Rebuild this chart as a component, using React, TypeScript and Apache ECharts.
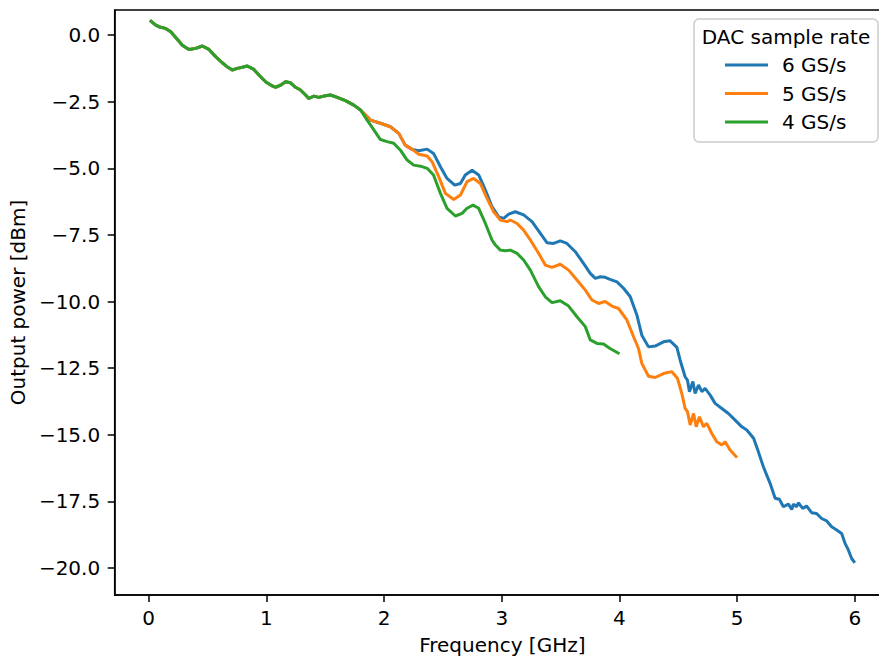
import React, { useEffect, useRef } from "react";
import * as echarts from "echarts";

// Frequency [GHz] / Output power [dBm] pairs
const commonPart: [number, number][] = [
  [0.011, 0.55], [0.06, 0.375], [0.1, 0.29], [0.144, 0.25], [0.187, 0.12], [0.23, -0.09],
  [0.286, -0.38], [0.342, -0.54], [0.4, -0.5], [0.456, -0.41], [0.512, -0.54], [0.569, -0.81],
  [0.625, -1.04], [0.673, -1.21], [0.71, -1.31], [0.753, -1.25], [0.795, -1.21], [0.838, -1.16],
  [0.894, -1.29], [0.936, -1.5], [0.993, -1.75], [1.05, -1.91], [1.078, -1.96], [1.12, -1.88],
  [1.163, -1.75], [1.205, -1.79], [1.248, -1.96], [1.29, -2.06], [1.333, -2.25], [1.36, -2.38],
  [1.403, -2.29], [1.446, -2.34], [1.488, -2.29], [1.545, -2.25], [1.602, -2.34], [1.672, -2.46],
  [1.743, -2.63], [1.8, -2.81],
];

const tail6: [number, number][] = [
  [1.856, -3.06], [1.885, -3.19], [1.969, -3.31], [2.054, -3.44], [2.125, -3.69], [2.18, -4.13],
  [2.238, -4.29], [2.295, -4.34], [2.366, -4.28], [2.42, -4.44], [2.479, -4.94], [2.535, -5.38],
  [2.6, -5.63], [2.649, -5.57], [2.69, -5.25], [2.748, -5.07], [2.804, -5.25], [2.861, -5.82],
  [2.917, -6.44], [2.974, -6.82], [3.016, -6.88], [3.059, -6.72], [3.115, -6.63], [3.186, -6.75],
  [3.257, -7.0], [3.328, -7.44], [3.384, -7.79], [3.44, -7.82], [3.497, -7.72], [3.554, -7.82],
  [3.625, -8.13], [3.695, -8.57], [3.752, -8.94], [3.795, -9.13], [3.837, -9.07], [3.879, -9.09],
  [3.92, -9.17], [3.979, -9.26], [4.035, -9.5], [4.092, -9.82], [4.148, -10.5], [4.19, -11.26],
  [4.247, -11.7], [4.304, -11.67], [4.374, -11.51], [4.43, -11.47], [4.488, -11.72], [4.516, -12.2],
  [4.558, -12.82], [4.578, -12.95], [4.595, -13.38], [4.624, -13.0], [4.643, -13.45], [4.672, -13.13],
  [4.7, -13.38], [4.728, -13.26], [4.771, -13.51], [4.813, -13.82], [4.87, -14.01], [4.926, -14.2],
  [4.983, -14.45], [5.04, -14.7], [5.082, -14.82], [5.14, -15.13], [5.18, -15.63], [5.223, -16.2],
  [5.28, -16.82], [5.323, -17.38], [5.36, -17.42], [5.393, -17.7], [5.436, -17.6], [5.464, -17.8],
  [5.478, -17.6], [5.506, -17.7], [5.52, -17.55], [5.557, -17.76], [5.59, -17.67], [5.633, -17.92],
  [5.675, -17.95], [5.718, -18.14], [5.761, -18.23], [5.803, -18.45], [5.846, -18.57], [5.888, -18.7],
  [5.917, -19.07], [5.945, -19.32], [5.973, -19.64], [6.0, -19.8],
];

const tail5: [number, number][] = [
  [1.856, -3.06], [1.885, -3.19], [1.969, -3.31], [2.054, -3.44], [2.125, -3.69], [2.18, -4.13],
  [2.238, -4.29], [2.295, -4.47], [2.366, -4.54], [2.408, -4.75], [2.465, -5.32], [2.521, -5.94],
  [2.592, -6.17], [2.649, -6.0], [2.705, -5.5], [2.762, -5.38], [2.818, -5.57], [2.875, -6.13],
  [2.931, -6.63], [2.988, -6.94], [3.045, -7.0], [3.073, -6.94], [3.13, -7.07], [3.186, -7.32],
  [3.243, -7.69], [3.313, -8.19], [3.37, -8.63], [3.427, -8.72], [3.497, -8.6], [3.568, -8.82],
  [3.639, -9.19], [3.71, -9.57], [3.766, -9.94], [3.823, -10.07], [3.879, -10.0], [3.936, -10.17],
  [3.992, -10.26], [4.063, -10.69], [4.12, -11.32], [4.162, -11.76], [4.19, -12.32], [4.247, -12.8],
  [4.304, -12.85], [4.374, -12.7], [4.445, -12.63], [4.493, -12.88], [4.53, -13.45], [4.558, -14.01],
  [4.578, -14.13], [4.601, -14.63], [4.63, -14.2], [4.652, -14.7], [4.68, -14.32], [4.714, -14.7],
  [4.742, -14.57], [4.785, -14.95], [4.827, -15.26], [4.87, -15.38], [4.898, -15.26], [4.94, -15.57],
  [4.983, -15.78], [5.0, -15.85],
];

const tail4: [number, number][] = [
  [1.856, -3.19], [1.913, -3.56], [1.969, -3.92], [2.026, -4.0], [2.082, -4.06], [2.139, -4.32],
  [2.196, -4.69], [2.252, -4.88], [2.31, -4.92], [2.366, -5.0], [2.42, -5.25], [2.479, -5.94],
  [2.535, -6.5], [2.606, -6.79], [2.663, -6.69], [2.705, -6.5], [2.756, -6.38], [2.804, -6.5],
  [2.861, -7.07], [2.917, -7.69], [2.946, -7.88], [2.988, -8.07], [3.03, -8.09], [3.073, -8.07],
  [3.13, -8.19], [3.186, -8.44], [3.243, -8.82], [3.313, -9.44], [3.37, -9.82], [3.427, -10.04],
  [3.497, -9.97], [3.568, -10.17], [3.639, -10.57], [3.71, -10.94], [3.752, -11.44], [3.809, -11.57],
  [3.865, -11.59], [3.92, -11.76], [4.0, -11.96],
];

const seriesNames = ["6 GS/s", "5 GS/s", "4 GS/s"];
const seriesColors = ["#1f77b4", "#ff7f0e", "#2ca02c"];
const xTicks = [0, 1, 2, 3, 4, 5, 6];
const yTicks = [-20, -17.5, -15, -12.5, -10, -7.5, -5, -2.5, 0];

const FONT = "DejaVu Sans";

export default function App() {
  const ref = useRef<HTMLDivElement>(null);
  useEffect(() => {
    if (!ref.current) return;
    const chart = echarts.init(ref.current, undefined, { renderer: "svg" });
    const tails = [tail6, tail5, tail4];
    const option = {
      animation: false,
      grid: {
        left: 114,
        top: 10,
        right: 0,
        bottom: 66,
        show: true,
        borderColor: "#000",
        borderWidth: 1.5,
        backgroundColor: "transparent",
      },
      xAxis: {
        type: "value",
        min: -0.289,
        max: 6.299,
        name: "Frequency [GHz]",
        nameLocation: "middle",
        nameGap: 40,
        nameTextStyle: { fontFamily: FONT, fontSize: 20, color: "#000" },
        splitLine: { show: false },
        axisLine: { show: true, onZero: false, lineStyle: { color: "#000", width: 1.5 } },
        axisTick: { show: true, length: 7, customValues: xTicks, lineStyle: { color: "#000", width: 1.5 } },
        axisLabel: {
          customValues: xTicks,
          fontFamily: FONT,
          fontSize: 20,
          color: "#000",
          margin: 13,
          formatter: (v: number) => String(v),
        },
      },
      yAxis: {
        type: "value",
        min: -21.01,
        max: 0.94,
        name: "Output power [dBm]",
        nameLocation: "middle",
        nameRotate: 90,
        nameGap: 84,
        nameTextStyle: { fontFamily: FONT, fontSize: 20, color: "#000" },
        splitLine: { show: false },
        axisLine: { show: true, onZero: false, lineStyle: { color: "#000", width: 1.5 } },
        axisTick: { show: true, length: 7, customValues: yTicks, lineStyle: { color: "#000", width: 1.5 } },
        axisLabel: {
          customValues: yTicks,
          fontFamily: FONT,
          fontSize: 20,
          color: "#000",
          margin: 14.5,
          formatter: (v: number) => (v < 0 ? "\u2212" : "") + Math.abs(v).toFixed(1),
        },
      },
      legend: {
        orient: "vertical",
        left: 725,
        top: 55,
        padding: 0,
        itemGap: 8.5,
        itemWidth: 43,
        itemHeight: 3,
        icon: "rect",
        data: seriesNames,
        textStyle: { fontFamily: FONT, fontSize: 20, color: "#000", lineHeight: 20, padding: [0, 0, 0, 9] },
        z: 6,
      },
      graphic: [
        {
          type: "rect",
          z: 5,
          shape: { x: 694, y: 19, width: 184, height: 123, r: 5 },
          style: { fill: "rgba(255,255,255,0.8)", stroke: "#cccccc", lineWidth: 1.5 },
        },
        {
          type: "text",
          z: 7,
          x: 786,
          y: 37,
          style: {
            text: "DAC sample rate",
            fontFamily: FONT,
            fontSize: 20,
            fill: "#000",
            align: "center",
            verticalAlign: "middle",
          },
        },
      ],
      series: seriesNames.map((name, i) => ({
        name,
        type: "line",
        data: [...commonPart, ...tails[i]],
        showSymbol: false,
        symbol: "none",
        color: seriesColors[i],
        lineStyle: { color: seriesColors[i], width: 3 },
        itemStyle: { color: seriesColors[i] },
        emphasis: { disabled: true },
      })),
    };
    chart.setOption(option as any);
    return () => chart.dispose();
  }, []);
  return (
    <div
      style={{
        position: "absolute",
        left: 0,
        top: 0,
        width: 879,
        height: 661,
        overflow: "hidden",
        background: "#fff",
      }}
    >
      <div ref={ref} style={{ width: 890, height: 661 }} />
    </div>
  );
}
